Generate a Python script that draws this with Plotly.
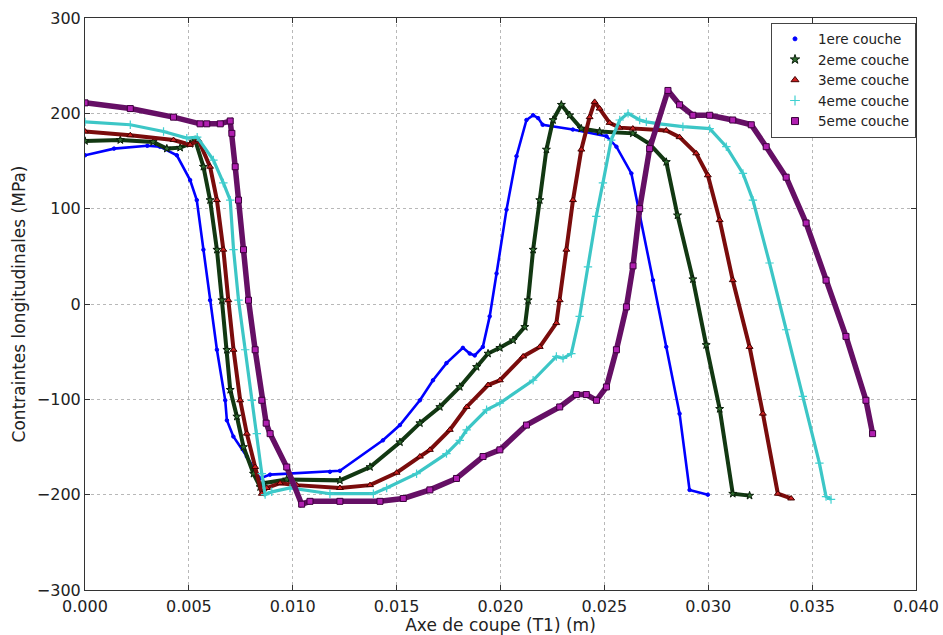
import plotly.graph_objects as go

# ---- data (x in m, y in MPa) ----
names = ["1ere couche", "2eme couche", "3eme couche", "4eme couche", "5eme couche"]

x1 = [0, 0.0014, 0.0030, 0.0036, 0.00442, 0.00506, 0.00538, 0.00570, 0.00602, 0.00635, 0.00675, 0.00683,
      0.00714, 0.00779, 0.00827, 0.00843, 0.00891, 0.01179, 0.01227, 0.01434, 0.01516, 0.01612, 0.01675,
      0.01740, 0.01819, 0.01852, 0.01876, 0.01915, 0.01948, 0.01981, 0.02029, 0.02077, 0.02125, 0.02157,
      0.02181, 0.02203, 0.02348, 0.02510, 0.02558, 0.02630, 0.02670, 0.02734, 0.02798, 0.02862, 0.02910, 0.02998]
y1 = [156, 163, 166, 165, 156, 130, 109, 57, 4, -48, -101, -122,
      -139, -160, -178, -183, -179, -176, -175, -143, -127, -101, -80,
      -62, -46, -52, -54, -45, -13, 32, 99, 155, 193, 198,
      195, 188, 183, 176, 165, 137, 95, 25, -45, -115, -195, -200]

x2 = [0, 0.0017, 0.00328, 0.00394, 0.00458, 0.00506, 0.0053, 0.00570, 0.00602, 0.00635, 0.00659, 0.00683,
      0.00699, 0.00731, 0.00763, 0.00811, 0.00843, 0.00859, 0.00971, 0.01227, 0.01372, 0.01516, 0.01612,
      0.01708, 0.01804, 0.01885, 0.01940, 0.01997, 0.02061, 0.02117, 0.02133, 0.02157, 0.02189, 0.02221,
      0.02253, 0.02293, 0.02333, 0.02389, 0.02477, 0.02637, 0.02717, 0.02798, 0.02852, 0.02926, 0.02990,
      0.03055, 0.03118, 0.03199]
y2 = [171, 172, 170, 163, 164, 168, 172, 144, 109, 57, 4, -48,
      -90, -118, -150, -178, -192, -188, -184, -185, -171, -145, -125,
      -108, -87, -66, -52, -46, -38, -24, 4, 57, 109, 162,
      193, 209, 198, 184, 181, 179, 168, 149, 93, 26, -43,
      -110, -199, -201]

x3 = [0, 0.00218, 0.00426, 0.00506, 0.00546, 0.00602, 0.00635, 0.00666, 0.00690, 0.00715, 0.00747, 0.00779,
      0.00819, 0.00851, 0.00875, 0.00939, 0.01019, 0.01227, 0.01372, 0.01500, 0.01612, 0.01660, 0.01756,
      0.01837, 0.01940, 0.01997, 0.02109, 0.02189, 0.02269, 0.02285, 0.02317, 0.02349, 0.02389, 0.02429,
      0.02453, 0.02477, 0.02525, 0.02573, 0.02637, 0.02798, 0.02862, 0.02942, 0.02998, 0.03055, 0.03118,
      0.03199, 0.03263, 0.03335, 0.03399]
y3 = [181, 177, 172, 167, 172, 144, 109, 57, 4, -48, -101, -136,
      -171, -199, -193, -188, -190, -193, -190, -177, -160, -153, -132,
      -108, -85, -80, -55, -45, -20, 4, 57, 109, 162, 196,
      212, 205, 190, 185, 184, 182, 175, 158, 135, 88, 25,
      -45, -115, -199, -204]

x4 = [0, 0.00218, 0.00378, 0.00490, 0.0054, 0.00618, 0.00666, 0.00699, 0.00715, 0.00739, 0.00771, 0.00803,
      0.00827, 0.00851, 0.00867, 0.00899, 0.00987, 0.01179, 0.01388, 0.01452, 0.01596, 0.01740, 0.01804,
      0.01837, 0.01933, 0.01997, 0.02157, 0.02269, 0.02301, 0.02341, 0.02381, 0.02421, 0.02461, 0.02493,
      0.02533, 0.02574, 0.02614, 0.02670, 0.02702, 0.02766, 0.02878, 0.03007, 0.03087, 0.03167, 0.03215,
      0.03295, 0.03375, 0.03455, 0.03535, 0.03567, 0.03591]
y4 = [191, 188, 181, 174, 175, 151, 127, 109, 57, 4, -48, -101,
      -136, -178, -200, -197, -193, -199, -199, -193, -178, -157, -143,
      -132, -111, -104, -80, -55, -57, -52, -13, 39, 92, 127,
      172, 193, 200, 193, 191, 189, 186, 184, 165, 137, 109,
      43, -27, -97, -167, -202, -205]

x5 = [0, 0.00218, 0.00426, 0.00554, 0.00586, 0.00651, 0.00699, 0.00707, 0.00723, 0.00739, 0.00763, 0.00787,
      0.00819, 0.00851, 0.00872, 0.00891, 0.00971, 0.01043, 0.01083, 0.01227, 0.01420, 0.01532, 0.01660,
      0.01788, 0.01916, 0.01997, 0.02125, 0.02285, 0.02365, 0.02413, 0.02462, 0.02510, 0.02558, 0.02606,
      0.02638, 0.02670, 0.02718, 0.02806, 0.02862, 0.02926, 0.03007, 0.03118, 0.03207, 0.03279, 0.03375,
      0.03471, 0.03567, 0.03663, 0.03759, 0.03791]
y5 = [211, 205, 196, 189, 189, 189, 192, 179, 144, 109, 57, 4,
      -48, -101, -125, -136, -171, -210, -207, -207, -207, -204, -195,
      -183, -160, -153, -127, -108, -95, -95, -101, -87, -48, -3,
      40, 100, 163, 224, 209, 198, 198, 193, 188, 165, 133,
      85, 25, -34, -101, -136]

xs = [x1, x2, x3, x4, x5]
ys = [y1, y2, y3, y4, y5]

# ---- styles ----
line_colors = ["#0000ff", "#123812", "#7a0c0c", "#3cc6c6", "#650f65"]
line_widths = [2.6, 4, 4, 3.2, 5.5]
marker_colors = ["#0000ff", "#2e6b2e", "#cc2020", "#40d0d0", "#b01fb0"]
marker_edges = ["#0000ff", "#0a1f0a", "#400000", "#40d0d0", "#3a003a"]
symbols = ["circle", "star", "triangle-up", "cross-thin", "square"]
sizes = [3.5, 6, 6, 6, 6]
legend_sizes = [4, 7, 7, 7, 7]

fig = go.Figure()
for i in range(5):
    fig.add_trace(go.Scatter(
        x=xs[i], y=ys[i], mode="lines+markers", showlegend=False,
        line=dict(color=line_colors[i], width=line_widths[i]),
        marker=dict(symbol=symbols[i], size=sizes[i], color=marker_colors[i],
                    line=dict(color=marker_edges[i], width=1 if i != 3 else 1.2)),
    ))
for i in range(5):
    fig.add_trace(go.Scatter(
        x=[None], y=[None], mode="markers", name=names[i],
        marker=dict(symbol=symbols[i], size=legend_sizes[i], color=marker_colors[i],
                    line=dict(color=marker_edges[i], width=1 if i != 3 else 1.2)),
    ))

xt = [0, 0.005, 0.010, 0.015, 0.020, 0.025, 0.030, 0.035, 0.040]
xtt = ["0.000", "0.005", "0.010", "0.015", "0.020", "0.025", "0.030", "0.035", "0.040"]
yt = [-300, -200, -100, 0, 100, 200, 300]
ytt = ["\u2212300", "\u2212200", "\u2212100", "0", "100", "200", "300"]

axis_common = dict(showline=True, mirror="ticks", linecolor="#333333", linewidth=1,
                   showgrid=True, gridcolor="#b8b8b8", griddash="dot", gridwidth=1,
                   zeroline=False, ticks="inside", ticklen=5, tickcolor="#333333",
                   automargin=False,
                   tickfont=dict(family="DejaVu Sans", size=16, color="#222"))

fig.update_xaxes(range=[0, 0.040], tickvals=xt, ticktext=xtt, ticklabelstandoff=2,
                 title=dict(text="Axe de coupe (T1) (m)", font=dict(family="DejaVu Sans", size=17, color="#222"),
                            standoff=0),
                 **axis_common)
fig.update_yaxes(range=[-300, 300], tickvals=yt, ticktext=ytt,
                 title=dict(text="Contraintes longitudinales (MPa)", font=dict(family="DejaVu Sans", size=17, color="#222"),
                            standoff=6),
                 **axis_common)

fig.update_layout(
    width=943, height=635,
    margin=dict(l=85, r=27, t=18, b=45),
    paper_bgcolor="white", plot_bgcolor="white",
    font=dict(family="DejaVu Sans", color="#222"),
    legend=dict(x=1.0, y=0.992, xanchor="right", yanchor="top",
                bgcolor="white", bordercolor="#444", borderwidth=1,
                font=dict(family="DejaVu Sans", size=13.5, color="#222"),
                tracegroupgap=0, itemwidth=36),
)

fig.write_html("out.html", config={"displayModeBar": False},
               post_script="document.body.style.margin='0';document.body.style.overflow='hidden';")
